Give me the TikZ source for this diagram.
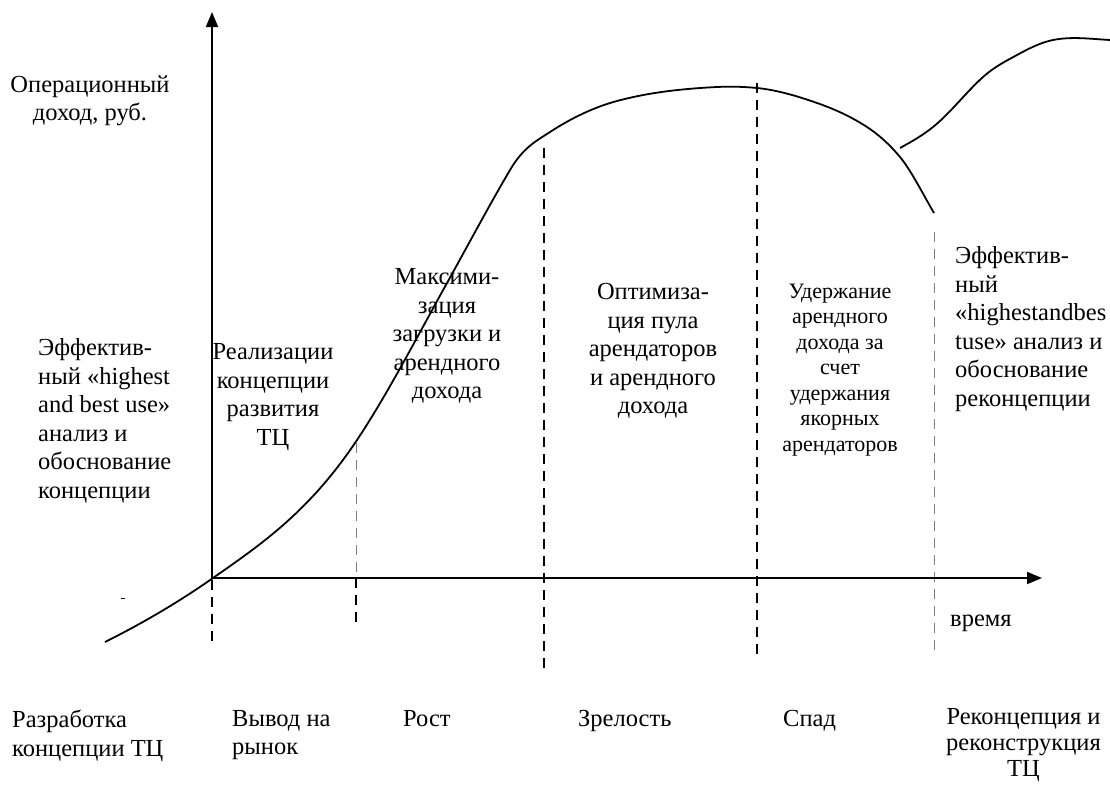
\documentclass[tikz,border=0pt]{standalone}
\usepackage{fontspec}
\setmainfont{Liberation Serif}
\usetikzlibrary{arrows.meta}
\begin{document}
\begin{tikzpicture}[x=1pt,y=-1pt,
  lbl/.style={inner sep=0pt,font=\fontsize{24.5}{28.5}\selectfont},
  small/.style={inner sep=0pt,font=\fontsize{22}{25.5}\selectfont},
  axis/.style={line width=1.8pt,-{Triangle[length=15pt,width=12pt]}},
  curve/.style={line width=1.8pt},
  dashA/.style={line width=1.6pt,dash pattern=on 10pt off 7pt},
  dashB/.style={line width=0.9pt,gray,dash pattern=on 10pt off 7pt}]
\useasboundingbox (0,0) rectangle (1110,787);
\coordinate (O) at (212,578);
\coordinate (Ytop) at (212,12);
\coordinate (Xend) at (1042,578);
% dashed verticals
\coordinate (d1a) at (212,580); \coordinate (d1b) at (212,642);
\coordinate (d2a) at (356,443); \coordinate (d2m) at (356,578); \coordinate (d2b) at (356,623);
\coordinate (d3a) at (544,148); \coordinate (d3b) at (544,675);
\coordinate (d4a) at (757,83);  \coordinate (d4b) at (757,655);
\coordinate (d5a) at (934,232); \coordinate (d5b) at (934,657);
\draw[dashA] (d1a) -- (d1b);
\draw[dashB] (d2a) -- (d2m);
\draw[dashA] (d2m) -- (d2b);
\draw[dashA] (d3a) -- (d3b);
\draw[dashA] (d4a) -- (d4b);
\draw[dashB] (d5a) -- (d5b);
% axes
\draw[axis] (O) -- (Ytop);
\draw[axis] (O) -- (Xend);
% curves
\draw[curve] (105,642)
  .. controls (141,624) and (177,603.2) .. (213,578)
  .. controls (261,544.4) and (309,512) .. (357,440)
  .. controls (387,395) and (417,337) .. (447,283)
  .. controls (468,245.2) and (489,205.7) .. (510,170)
  .. controls (523.3,147.3) and (536.7,140.7) .. (550,132)
  .. controls (572.3,117.5) and (594.7,107) .. (617,101)
  .. controls (650.3,92) and (683.7,88.7) .. (717,87)
  .. controls (730.3,86.3) and (743.7,86.7) .. (757,88)
  .. controls (777,90) and (797,96) .. (817,103)
  .. controls (833.7,108.8) and (850.3,116.2) .. (867,127)
  .. controls (878,134.2) and (889,143.8) .. (900,157)
  .. controls (911.3,170.6) and (922.7,193.8) .. (934,213);
\draw[curve] (900,148)
  .. controls (911,142) and (922,135.8) .. (933,127)
  .. controls (949.7,113.7) and (966.3,92) .. (983,77)
  .. controls (994.3,66.8) and (1005.7,61.2) .. (1017,55)
  .. controls (1029,48.4) and (1041,42.4) .. (1053,40)
  .. controls (1072,36.2) and (1091,39) .. (1110,40);
% stray mark
\coordinate (s1) at (121,598); \coordinate (s2) at (125,598);
\draw[line width=1pt] (s1) -- (s2);
% labels
\node[lbl,align=center] (ylab) at (90,101) {Операционный\\доход, руб.};
\node[lbl,align=left,anchor=west] (t1) at (38,421) {Эффектив-\\ный «highest\\and best use»\\анализ и\\обоснование\\концепции};
\node[lbl,align=center] (t2) at (273,397) {Реализации\\концепции\\развития\\ТЦ};
\node[lbl,align=center] (t3) at (447,336) {Максими-\\зация\\загрузки и\\арендного\\дохода};
\node[lbl,align=center] (t4) at (653,351) {Оптимиза-\\ция пула\\арендаторов\\и арендного\\дохода};
\node[small,align=center] (t5) at (840,370) {Удержание\\арендного\\дохода за\\счет\\удержания\\якорных\\арендаторов};
\node[lbl,align=left,anchor=west] (t6) at (955,329) {Эффектив-\\ный\\«highestandbes\\tuse» анализ и\\обоснование\\реконцепции};
\node[lbl,anchor=west] (time) at (950,623) {время};
% bottom phase labels
\node[lbl,align=left,anchor=north west] (b1) at (12,710) {Разработка\\концепции ТЦ};
\node[lbl,align=left,anchor=north west] (b2) at (232,710) {Вывод на\\рынок};
\node[lbl,anchor=north west] (b3) at (403,710) {Рост};
\node[lbl,anchor=north west] (b4) at (578,710) {Зрелость};
\node[lbl,anchor=north west] (b5) at (783,710) {Спад};
\node[lbl,align=center,anchor=north west,font=\fontsize{24.5}{26}\selectfont] (b6) at (946,708) {Реконцепция и\\реконструкция\\ТЦ};
\end{tikzpicture}
\end{document}
